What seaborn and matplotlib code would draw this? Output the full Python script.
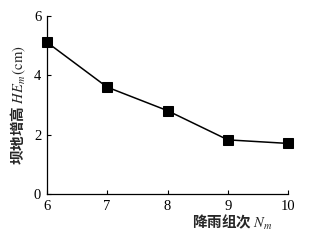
import matplotlib
matplotlib.use("Agg")
import matplotlib.pyplot as plt
import seaborn as sns
import pandas as pd

rain_groups = [6, 7, 8, 9, 10]
height_gain = [5.11, 3.60, 2.81, 1.83, 1.71]
x_ticks = [6, 7, 8, 9, 10]
y_ticks = [0, 2, 4, 6]

sns.set_theme(style="ticks")
plt.rcParams['font.family'] = ['Liberation Serif', 'Noto Sans CJK SC', 'DejaVu Sans']
plt.rcParams['mathtext.fontset'] = 'stix'

df = pd.DataFrame({"N": rain_groups, "HE": height_gain})

fig = plt.figure(figsize=(3.2, 2.4), dpi=100)
ax = fig.add_axes([0.146, 0.19, 0.755, 0.745])
sns.lineplot(data=df, x="N", y="HE", ax=ax, color="black", linewidth=1.1,
             marker="s", markersize=7, markeredgecolor="black",
             markerfacecolor="black", clip_on=False)
ax.set_xlim(6, 10)
ax.set_ylim(0, 6)
ax.set_xticks(x_ticks)
ax.set_yticks(y_ticks)
ax.tick_params(direction="in", length=3, width=0.8, labelsize=10.5, colors="black", pad=4)
for s in ["top", "right"]:
    ax.spines[s].set_visible(False)
for s in ["left", "bottom"]:
    ax.spines[s].set_linewidth(0.9)
    ax.spines[s].set_color("black")

ax.set_xlabel("降雨组次 $\\mathbf{\\mathit{N_m}}$", family=['Noto Sans CJK SC', 'DejaVu Sans'],
              fontsize=10.5, fontweight="bold", labelpad=1)
ax.xaxis.set_label_coords(0.77, -0.105)
ax.set_ylabel("坝地增高 $HE_m\\,(\\mathrm{cm})$", family=['Noto Sans CJK SC', 'DejaVu Sans'],
              fontsize=10.5, fontweight="bold", labelpad=4)

fig.savefig("out.png", dpi=100)
